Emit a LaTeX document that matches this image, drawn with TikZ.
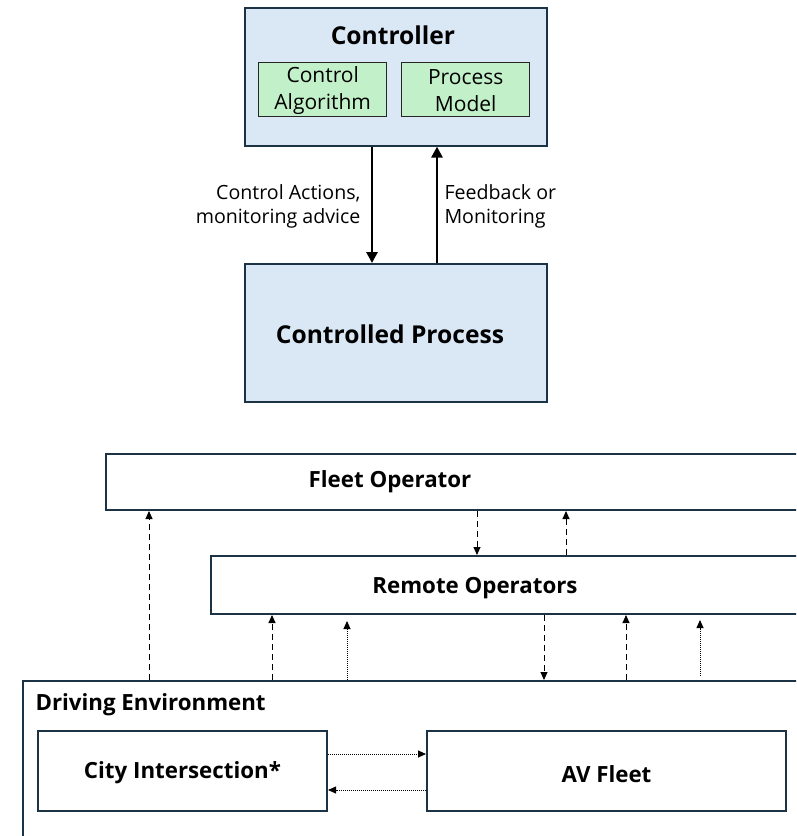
\documentclass[tikz,border=0pt]{standalone}
\usepackage{fontspec}
\setmainfont{Open Sans}
\usetikzlibrary{arrows.meta}

\definecolor{ctrlblue}{HTML}{DAE8F6}
\definecolor{algogreen}{HTML}{C2F0C8}
\definecolor{edgenavy}{HTML}{1B3344}

\tikzset{
  bluebox/.style={draw=edgenavy, line width=1.6pt, fill=ctrlblue, inner sep=0pt, anchor=north west},
  greenbox/.style={draw=black!85, line width=1.4pt, fill=algogreen, inner sep=0pt, anchor=north west},
  whitebox/.style={draw=edgenavy, line width=2pt, fill=white, inner sep=0pt, anchor=north west},
  titletext/.style={font=\fontsize{24.6}{29}\selectfont\bfseries},
  innertext/.style={font=\fontsize{21}{27}\selectfont, align=center},
  flowtext/.style={font=\fontsize{19.6}{24}\selectfont},
  lowtext/.style={font=\fontsize{22.3}{26}\selectfont\bfseries},
  bigarrow/.style={line width=2.8pt, -{Triangle[length=11pt,width=11pt]}},
  smallhead/.style={-{Triangle[length=8pt,width=7pt]}},
  dashlink/.style={smallhead, line width=0.9pt, dash pattern=on 6pt off 4pt},
  dotlink/.style={smallhead, line width=0.9pt, dash pattern=on 1pt off 1pt}
}

\begin{document}
\begin{tikzpicture}[x=1pt, y=-1pt]
\useasboundingbox (0,0) rectangle (796,836);
\clip (0,0) rectangle (796,836);

% ---- control loop ----
\node[bluebox, minimum width=302pt, minimum height=138pt] (ctrl) at (244,7) {};
\node[titletext] (ctrltitle) at (393,35) {Controller};
\node[greenbox, minimum width=128pt, minimum height=54pt] (algo) at (258,62) {};
\node[innertext] (algotext) at ([yshift=-1pt]algo.center) {Control\\Algorithm};
\node[greenbox, minimum width=128pt, minimum height=54pt] (pmodel) at (401,62) {};
\node[innertext] (pmodeltext) at ([yshift=-1pt]pmodel.center) {Process\\Model};

\node[bluebox, minimum width=302pt, minimum height=138pt] (proc) at (244,263) {};
\node[titletext] (proctext) at (390,334) {Controlled Process};

\draw[bigarrow] (372,0 |- ctrl.south) -- (372,0 |- proc.north);
\draw[bigarrow] (437,0 |- proc.north) -- (437,0 |- ctrl.south);

\node[flowtext, align=right, anchor=east] (calabel) at (364,206) {Control Actions,\\monitoring advice};
\node[flowtext, align=left, anchor=west] (fblabel) at (441,206) {Feedback or\\Monitoring};

% ---- fleet hierarchy ----
\node[whitebox, minimum width=720pt, minimum height=56pt] (fleet) at (105,453) {};
\node[lowtext] (fleettext) at (390,482) {Fleet Operator};
\node[whitebox, minimum width=620pt, minimum height=58pt] (remote) at (210,555) {};
\node[lowtext] (remotetext) at (475,588) {Remote Operators};
\node[whitebox, minimum width=820pt, minimum height=200pt] (env) at (22,680) {};
\node[lowtext, anchor=west] (envtext) at (32,705) {Driving Environment};
\node[whitebox, minimum width=289pt, minimum height=80pt] (city) at (37,730) {};
\node[lowtext] (citytext) at ([yshift=-2pt]city.center) {City Intersection*};
\node[whitebox, minimum width=359pt, minimum height=80pt] (av) at (426,730) {};
\node[lowtext] (avtext) at ([yshift=-3pt]av.center) {AV Fleet};

% vertical links
\draw[dashlink] (149,0 |- env.north) -- (149,0 |- fleet.south);
\draw[dashlink] (477,0 |- fleet.south) -- (477,0 |- remote.north);
\draw[dashlink] (566,0 |- remote.north) -- (566,0 |- fleet.south);
\draw[dashlink] (272,0 |- env.north) -- (272,0 |- remote.south);
\draw[dotlink, shorten >=6pt] (347,0 |- env.north) -- (347,0 |- remote.south);
\draw[dashlink] (544,0 |- remote.south) -- (544,0 |- env.north);
\draw[dashlink] (626,0 |- env.north) -- (626,0 |- remote.south);
\draw[dotlink, shorten <=4pt, shorten >=5pt] (700,0 |- env.north) -- (700,0 |- remote.south);

% horizontal links
\draw[dotlink] (city.east |- 0,754) -- (av.west |- 0,754);
\draw[dotlink] (av.west |- 0,790) -- (city.east |- 0,790);
\end{tikzpicture}
\end{document}
